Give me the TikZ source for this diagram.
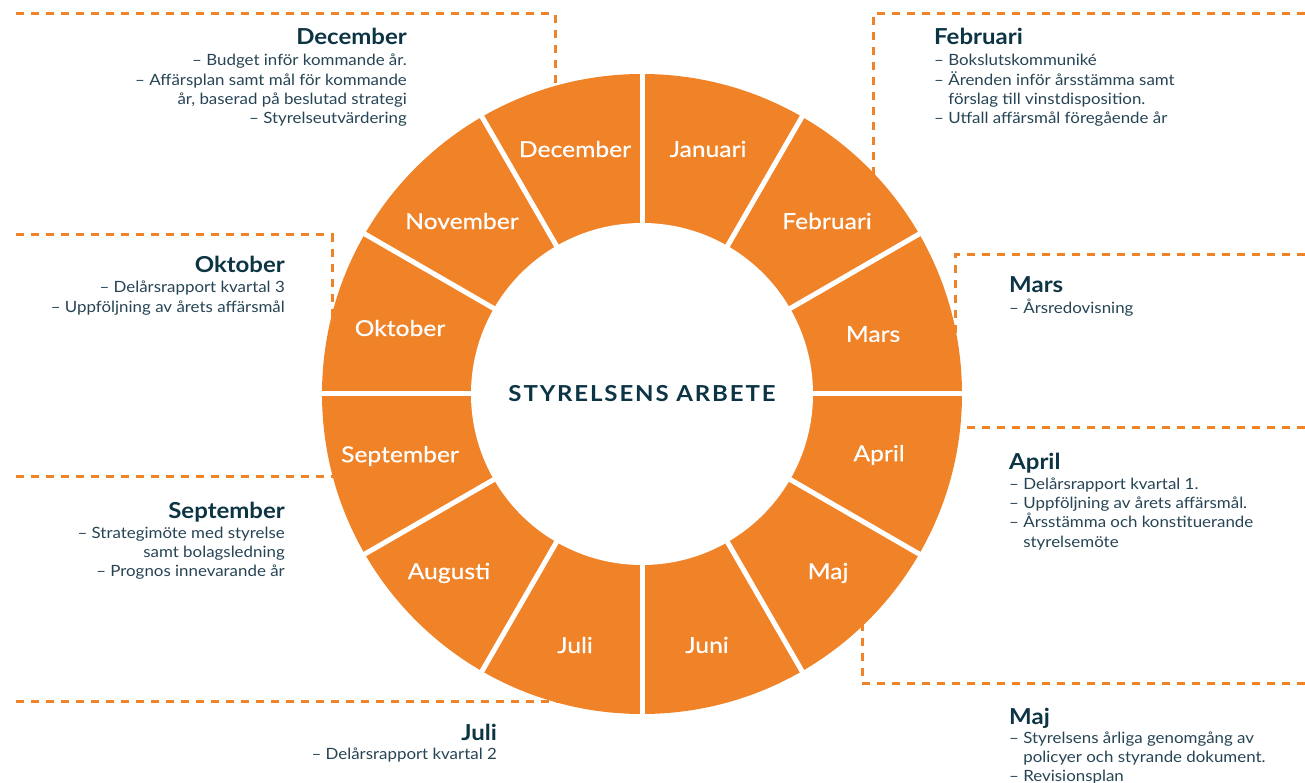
\documentclass[tikz,border=0pt]{standalone}
\usepackage{fontspec}
\setmainfont{Lato}
\newfontfamily\widefont{Lato}[FakeStretch=1.09]
\newfontfamily\labelfont{Lato}[FakeStretch=1.12,FakeBold=0.5]
\definecolor{segorange}{RGB}{240,130,40}
\definecolor{titleblue}{RGB}{12,52,68}
\definecolor{textblue}{RGB}{38,68,84}
\tikzset{
  callout/.style={draw=segorange,line width=3pt,dash pattern=on 8pt off 7pt},
  monthlabel/.style={text=white,inner sep=0pt,font=\labelfont\fontsize{22}{25}\selectfont},
  boxtitle/.style={text=titleblue,inner sep=0pt,font=\widefont\fontsize{22}{26}\selectfont\bfseries},
  boxtext/.style={text=textblue,inner sep=0pt,font=\widefont\fontsize{15.5}{19.3}\selectfont},
}
\newcommand{\firstline}{\rule{0pt}{15pt}}
\newcommand{\hang}{\phantom{–}\ }

\begin{document}
\begin{tikzpicture}[x=1pt,y=1pt]
\useasboundingbox (0,0) rectangle (1305,782);
\coordinate (C) at (642,388);
\coordinate (dec-a) at (16,768);
\coordinate (dec-b) at (555,768);
\coordinate (dec-c) at (555,680);
\coordinate (feb-a) at (1305,768);
\coordinate (feb-b) at (873,768);
\coordinate (feb-c) at (873,595);
\coordinate (okt-a) at (16,547);
\coordinate (okt-b) at (332,547);
\coordinate (okt-c) at (332,455);
\coordinate (mar-a) at (1305,527);
\coordinate (mar-b) at (955,527);
\coordinate (mar-c) at (955,445);
\coordinate (apr-a) at (1305,354);
\coordinate (apr-b) at (950,354);
\coordinate (sep-a) at (16,305);
\coordinate (sep-b) at (345,305);
\coordinate (jul-a) at (16,81);
\coordinate (jul-b) at (560,81);
\coordinate (maj-a) at (1305,99);
\coordinate (maj-b) at (862,99);
\coordinate (maj-c) at (862,165);
\draw[callout] (dec-a) -- (dec-b) -- (dec-c);
\draw[callout] (feb-a) -- (feb-b) -- (feb-c);
\draw[callout] (okt-a) -- (okt-b) -- (okt-c);
\draw[callout] (mar-a) -- (mar-b) -- (mar-c);
\draw[callout] (apr-a) -- (apr-b);
\draw[callout] (sep-a) -- (sep-b);
\draw[callout] (jul-a) -- (jul-b);
\draw[callout] (maj-a) -- (maj-b) -- (maj-c);
% ring
\fill[segorange] (C) circle (320pt);
\foreach \a in {0,30,...,330}
  \draw[white,line width=5pt] (C) -- ++(\a:330pt);
\fill[white] (C) circle (171pt);
\node[text=titleblue,font=\widefont\fontsize{22}{25}\selectfont\bfseries\addfontfeature{LetterSpace=8.5}] (centre) at (C) {STYRELSENS ARBETE};
\foreach \m/\x/\y [count=\i] in {Januari/708/633,Februari/827/561,Mars/873/448,April/879/327,Maj/828/209,Juni/707/137,Juli/575/137,Augusti/449/209,September/400/326,Oktober/400/454,November/462/561,December/575/633}
  \node[monthlabel] (seg-\i) at (\x,\y) {\m};
% callout texts
\node[boxtitle,anchor=base east] (dec-title) at (407,737) {December};
\node[boxtext,anchor=north east,align=right] (dec-text) at (407,731.3) {\firstline– Budget inför kommande år.\\– Affärsplan samt mål för kommande\\år, baserad på beslutad strategi\\– Styrelseutvärdering};
\node[boxtitle,anchor=base west] (feb-title) at (934,737) {Februari};
\node[boxtext,anchor=north west,align=left] (feb-text) at (934,731.3) {\firstline– Bokslutskommuniké\\– Ärenden inför årsstämma samt\\\hang förslag till vinstdisposition.\\– Utfall affärsmål föregående år};
\node[boxtitle,anchor=base east] (okt-title) at (285,509) {Oktober};
\node[boxtext,anchor=north east,align=right] (okt-text) at (285,504.3) {\firstline– Delårsrapport kvartal 3\\– Uppföljning av årets affärsmål};
\node[boxtitle,anchor=base west] (mar-title) at (1009,489) {Mars};
\node[boxtext,anchor=north west,align=left] (mar-text) at (1009,484) {\firstline– Årsredovisning};
\node[boxtitle,anchor=base west] (apr-title) at (1009,312) {April};
\node[boxtext,anchor=north west,align=left] (apr-text) at (1009,308) {\firstline– Delårsrapport kvartal 1.\\– Uppföljning av årets affärsmål.\\– Årsstämma och konstituerande\\\hang styrelsemöte};
\node[boxtitle,anchor=base east] (sep-title) at (285,264) {September};
\node[boxtext,anchor=north east,align=right] (sep-text) at (285,259) {\firstline– Strategimöte med styrelse\\samt bolagsledning\\– Prognos innevarande år};
\node[boxtitle,anchor=base east] (jul-title) at (497,42) {Juli};
\node[boxtext,anchor=north east,align=right] (jul-text) at (497,38) {\firstline– Delårsrapport kvartal 2};
\node[boxtitle,anchor=base west] (maj-title) at (1009,58) {Maj};
\node[boxtext,anchor=north west,align=left] (maj-text) at (1009,54) {\firstline– Styrelsens årliga genomgång av\\\hang policyer och styrande dokument.\\– Revisionsplan};
\end{tikzpicture}
\end{document}
